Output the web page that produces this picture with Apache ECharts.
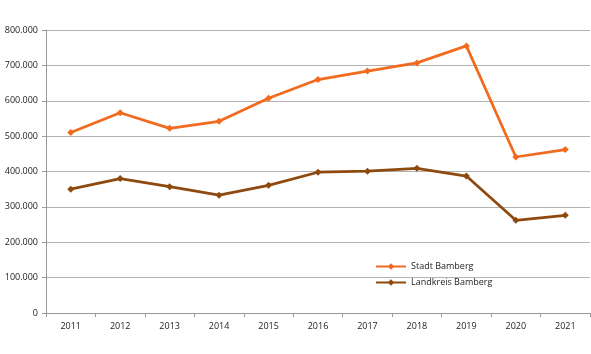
<!DOCTYPE html>
<html><head><meta charset="utf-8">
<script src="https://cdn.jsdelivr.net/npm/echarts@6/dist/echarts.min.js"></script>
<style>html,body{margin:0;padding:0;background:#fff}#c{width:591px;height:354px}</style>
</head><body><div id="c"></div>
<script>
const years = ['2011','2012','2013','2014','2015','2016','2017','2018','2019','2020','2021'];
const stadtBamberg = [510000, 566000, 522000, 542000, 607000, 660000, 684000, 707000, 755000, 441000, 462000];
const landkreisBamberg = [350000, 380000, 357000, 333000, 361000, 398000, 401000, 409000, 387000, 262000, 276000];
const seriesNames = ['Stadt Bamberg', 'Landkreis Bamberg'];
const font = '"Open Sans", "DejaVu Sans", sans-serif';
const chart = echarts.init(document.getElementById('c'));
chart.setOption({
  animation: false,
  backgroundColor: '#fff',
  grid: {left: 46, right: 1, top: 30, bottom: 41},
  legend: {
    orient: 'vertical', left: 370, top: 257, itemGap: 7,
    itemWidth: 30, itemHeight: 8,
    textStyle: {fontFamily: font, fontSize: 9, color: '#222'},
    data: seriesNames
  },
  xAxis: {
    type: 'category', data: years, boundaryGap: true,
    axisLine: {lineStyle: {color: '#999', width: 1}},
    axisTick: {show: true, length: 4, lineStyle: {color: '#999'}},
    axisLabel: {fontFamily: font, fontSize: 9, color: '#222', margin: 9}
  },
  yAxis: {
    type: 'value', min: 0, max: 800000, interval: 100000,
    axisLine: {show: true, lineStyle: {color: '#999'}},
    axisTick: {show: true, length: 4, lineStyle: {color: '#999'}},
    splitLine: {lineStyle: {color: '#b3b3b3', width: 1}},
    axisLabel: {fontFamily: font, fontSize: 9, color: '#222', margin: 8,
      formatter: v => v === 0 ? '0' : (v/1000).toFixed(0) + '.000'}
  },
  series: [
    {name: seriesNames[0], type: 'line', data: stadtBamberg, symbol: 'diamond', symbolSize: 7,
     lineStyle: {color: '#F26A1E', width: 2.75}, itemStyle: {color: '#F26A1E'}},
    {name: seriesNames[1], type: 'line', data: landkreisBamberg, symbol: 'diamond', symbolSize: 7,
     lineStyle: {color: '#8E4A0E', width: 2.75}, itemStyle: {color: '#8E4A0E'}}
  ]
});
</script></body></html>
